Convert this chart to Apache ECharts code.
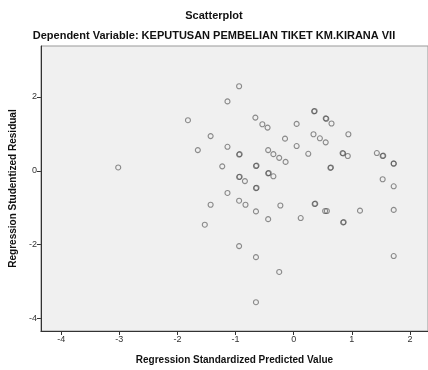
<!DOCTYPE html>
<html>
  <head>
    <meta charset="UTF-8" />
    <title>Scatterplot</title>
    <style>
      html,
      body {
        margin: 0;
        padding: 0;
        background: #fff;
      }
      #main {
        width: 428px;
        height: 370px;
      }
    </style>
  </head>
  <body>
    <div id="main"></div>
  </body>
  <script src="https://cdn.jsdelivr.net/npm/echarts@6/dist/echarts.min.js"></script>
  <script>
    // predicted value (standardized)
    var predicted = [
      -0.94, -1.14, -1.82, -0.66, -0.54, -0.45, 0.05, -1.43, -0.15, -1.65,
      -1.14, -0.94, -0.93, 0.05, -0.44, -0.35, -0.25, -0.14, -1.23, -0.65,
      -0.64, -0.44, -0.43, -0.35, -0.94, -0.93, -0.84, 0.35, 0.36, 0.55,
      0.56, 0.65, 0.34, 0.45, 0.55, 0.94, 0.25, 0.84, 0.85, 0.93, 1.43,
      1.53, 1.54, 1.72, 1.72, 0.63, 0.64, 1.53, 1.72, -0.65, -0.64, -1.14,
      -1.43, -0.94, -0.83, -0.65, -0.23, -0.44, 0.12, -1.53, -0.94, -0.65,
      -0.25, -0.65, 0.36, 0.37, 0.54, 0.57, 0.85, 0.86, 1.14, 1.72, 1.72,
      -3.02
    ];
    // studentized residual
    var residual = [
      2.29, 1.88, 1.37, 1.44, 1.26, 1.17, 1.27, 0.94, 0.87, 0.56,
      0.65, 0.44, 0.45, 0.67, 0.56, 0.45, 0.35, 0.24, 0.12, 0.13,
      0.14, -0.07, -0.06, -0.15, -0.17, -0.16, -0.28, 1.61, 1.62, 1.42,
      1.41, 1.28, 0.99, 0.88, 0.77, 0.99, 0.46, 0.48, 0.47, 0.4, 0.48,
      0.4, 0.41, 0.19, 0.2, 0.08, 0.09, -0.23, -0.42, -0.47, -0.46, -0.6,
      -0.92, -0.81, -0.92, -1.1, -0.94, -1.31, -1.28, -1.46, -2.04, -2.34,
      -2.74, -3.56, -0.9, -0.89, -1.09, -1.09, -1.4, -1.39, -1.08, -1.06,
      -2.31, 0.09
    ];
    var xTicks = [-4, -3, -2, -1, 0, 1, 2];
    var yTicks = [-4, -2, 0, 2];

    var myChart = echarts.init(document.getElementById("main"));

    var points = [];
    for (var i = 0; i < predicted.length; i++) {
      points.push([predicted[i], residual[i]]);
    }

    var option = {
      backgroundColor: "#fff",
      animation: false,
      title: [
        {
          text: "Scatterplot",
          left: "center",
          top: 5,
          textStyle: {
            fontFamily: "Liberation Sans",
            fontSize: 11,
            fontWeight: "bold",
            color: "#111",
          },
        },
        {
          text: "Dependent Variable: KEPUTUSAN PEMBELIAN TIKET KM.KIRANA VII",
          left: "center",
          top: 25,
          textStyle: {
            fontFamily: "Liberation Sans",
            fontSize: 11,
            fontWeight: "bold",
            color: "#111",
          },
        },
      ],
      grid: {
        left: 38,
        right: 0,
        top: 46,
        bottom: 37,
        show: true,
        backgroundColor: "#f0f0f0",
        borderColor: "#999",
        borderWidth: 1,
      },
      xAxis: {
        type: "value",
        min: -4.35,
        max: 2.31,
        name: "Regression Standardized Predicted Value",
        nameLocation: "middle",
        nameGap: 24,
        nameTextStyle: {
          fontFamily: "Liberation Sans",
          fontSize: 10,
          fontWeight: "bold",
          color: "#111",
        },
        splitLine: { show: false },
        axisLine: { show: true, onZero: false, lineStyle: { color: "#333" } },
        axisTick: {
          show: true,
          length: 4,
          customValues: xTicks,
          lineStyle: { color: "#333" },
        },
        axisLabel: {
          customValues: xTicks,
          fontFamily: "Liberation Sans",
          fontSize: 9,
          color: "#333",
          margin: 4,
        },
      },
      yAxis: {
        type: "value",
        min: -4.34,
        max: 3.38,
        name: "Regression Studentized Residual",
        nameLocation: "middle",
        nameGap: 22,
        nameTextStyle: {
          fontFamily: "Liberation Sans",
          fontSize: 10,
          fontWeight: "bold",
          color: "#111",
        },
        splitLine: { show: false },
        axisLine: { show: true, onZero: false, lineStyle: { color: "#333" } },
        axisTick: {
          show: true,
          length: 4,
          customValues: yTicks,
          lineStyle: { color: "#333" },
        },
        axisLabel: {
          customValues: yTicks,
          fontFamily: "Liberation Sans",
          fontSize: 9,
          color: "#333",
          margin: 4,
        },
      },
      series: [
        {
          type: "scatter",
          data: points,
          symbol: "circle",
          symbolSize: 5,
          itemStyle: {
            color: "rgba(0,0,0,0)",
            borderColor: "rgba(70,70,70,0.75)",
            borderWidth: 1.1,
          },
        },
      ],
    };
    myChart.setOption(option);
  </script>
</html>
